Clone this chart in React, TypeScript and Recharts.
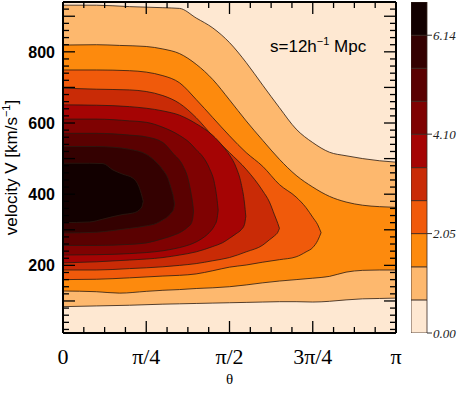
import React from 'react';
import { ComposedChart, Area, XAxis, YAxis, CartesianGrid, BarChart, Bar, Label } from 'recharts';

// contour boundaries, one array per level: [theta / pi, lower V, upper V] (km/s)
const level1 = [
  [0, 84, 931], [0.1, 86, 931], [0.2, 88, 927], [0.3, 91, 924], [0.35, 92, 922], [0.4, 93, 895],
  [0.45, 94, 867], [0.5, 95, 826], [0.55, 96, 770], [0.6, 97, 706], [0.65, 98, 643], [0.7, 98, 583],
  [0.75, 97, 545], [0.8, 99, 518], [0.85, 103, 508], [0.9, 106, 500], [0.95, 107, 494], [1, 108, 490],
];
const level2 = [
  [0, 128, 819], [0.1, 126, 820], [0.17, 122, 818], [0.25, 127, 815], [0.3, 130, 808], [0.35, 132, 795],
  [0.4, 135, 765], [0.45, 137, 722], [0.5, 140, 665], [0.55, 145, 606], [0.6, 151, 551], [0.65, 156, 498],
  [0.7, 160, 453], [0.75, 164, 420], [0.8, 169, 394], [0.85, 181, 378], [0.9, 186, 369], [0.95, 187, 365],
  [1, 187, 363],
];
const level3 = [
  [0, 160, 749], [0.1, 161, 749], [0.2, 165, 747], [0.3, 170, 733], [0.35, 172, 713], [0.4, 176, 666],
  [0.45, 185, 615], [0.5, 195, 564], [0.55, 201, 517], [0.6, 209, 478], [0.65, 216, 427], [0.7, 224, 392],
  [0.73, 238, 362], [0.75, 250, 335], [0.765, 270, 314], [0.775, 292, 292],
];
const level4 = [
  [0, 187, 698], [0.1, 187, 695], [0.2, 191, 693], [0.3, 196, 677], [0.35, 200, 655], [0.4, 205, 615],
  [0.45, 213, 563], [0.5, 222, 517], [0.55, 238, 470], [0.6, 257, 409], [0.62, 272, 378], [0.635, 283, 342],
  [0.645, 293, 318], [0.65, 304, 304],
];
const level5 = [
  [0, 207, 651], [0.1, 210, 650], [0.2, 215, 646], [0.3, 222, 634], [0.35, 229, 622], [0.4, 238, 598],
  [0.45, 253, 565], [0.48, 264, 535], [0.5, 276, 510], [0.52, 289, 475], [0.535, 300, 430], [0.545, 315, 375],
  [0.549, 338, 338],
];
const level6 = [
  [0, 229, 611], [0.1, 230, 611], [0.2, 233, 606], [0.25, 236, 602], [0.3, 241, 588], [0.35, 250, 565],
  [0.38, 258, 545], [0.4, 266, 525], [0.42, 277, 505], [0.44, 293, 472], [0.455, 312, 430], [0.462, 328, 390],
  [0.466, 355, 355],
];
const level7 = [
  [0, 256, 571], [0.1, 256, 571], [0.2, 259, 566], [0.25, 263, 561], [0.3, 275, 545], [0.33, 284, 515],
  [0.36, 297, 480], [0.375, 308, 445], [0.385, 318, 400], [0.39, 335, 370], [0.392, 352, 352],
];
const level8 = [
  [0, 291, 534], [0.1, 293, 534], [0.15, 298, 532], [0.2, 304, 526], [0.25, 311, 512], [0.28, 318, 490],
  [0.3, 328, 468], [0.315, 337, 445], [0.325, 348, 415], [0.332, 358, 390], [0.335, 372, 372],
];
const level9 = [
  [0, 320, 487], [0.08, 322, 487], [0.12, 330, 486], [0.15, 337, 468], [0.18, 343, 456], [0.21, 347, 445],
  [0.228, 355, 421], [0.237, 365, 395], [0.241, 380, 380],
];
const contourLevels = [level1, level2, level3, level4, level5, level6, level7, level8, level9];

const bandColors = [
  '#fee8d2', '#fdb86e', '#fd8a0d', '#f05a0b', '#c92b06',
  '#a50404', '#7f0202', '#5a0101', '#340101', '#120000',
];
const bandEdges = [0, 0.683, 1.365, 2.05, 2.73, 3.41, 4.1, 4.78, 5.46, 6.14, 6.825];
const colorbarTicks = [0, 2.05, 4.1, 6.14];

const thetaTicks = Array.from({ length: 17 }, (_, i) => i / 16);
const thetaLabels = ['0', 'π/4', 'π/2', '3π/4', 'π'];
const velocityTicks = Array.from({ length: 47 }, (_, i) => (i + 1) * 20);
const velocityLabels = [200, 400, 600, 800];

// merge all levels into one table keyed by theta; missing levels are gaps
const rows = (() => {
  const map = new Map<number, any>();
  contourLevels.forEach((lvl, i) =>
    lvl.forEach(([t, lo, hi]) => {
      const row = map.get(t) ?? { t };
      row['l' + i] = [lo, hi];
      map.set(t, row);
    })
  );
  return [...map.values()].sort((a, b) => a.t - b.t);
})();

const cbRow: any = { name: 'cb' };
bandColors.forEach((_, i) => {
  cbRow['b' + i] = bandEdges[i + 1] - bandEdges[i];
});

const SANS = '"Liberation Sans", Arial, Helvetica, sans-serif';
const SERIF = '"Liberation Serif", "Times New Roman", serif';

const isQuarter = (v: number) => Math.abs(v * 4 - Math.round(v * 4)) < 1e-9;

const BottomTick = (props: any) => {
  const { x, y, payload } = props;
  const major = isQuarter(payload.value);
  return (
    <g>
      <line x1={x} x2={x} y1={y} y2={y - (major ? 12 : 6)} stroke="#000" strokeWidth={1.3} />
      {major && (
        <text x={x} y={y + 31} textAnchor="middle" fontFamily={SERIF} fontSize={22} fill="#000">
          {thetaLabels[Math.round(payload.value * 4)]}
        </text>
      )}
    </g>
  );
};

const TopTick = (props: any) => {
  const { x, y, payload } = props;
  const major = isQuarter(payload.value);
  return <line x1={x} x2={x} y1={y} y2={y + (major ? 12 : 6)} stroke="#000" strokeWidth={1.3} />;
};

const LeftTick = (props: any) => {
  const { x, y, payload } = props;
  const v = payload.value;
  const major = v % 100 === 0;
  return (
    <g>
      <line x1={x} x2={x + (major ? 12 : 6)} y1={y} y2={y} stroke="#000" strokeWidth={1.3} />
      {velocityLabels.includes(v) && (
        <text x={x - 8} y={y} dy="0.36em" textAnchor="end" fontFamily={SANS} fontWeight="bold" fontSize={16} fill="#000">
          {v}
        </text>
      )}
    </g>
  );
};

const RightTick = (props: any) => {
  const { x, y, payload } = props;
  const major = payload.value % 100 === 0;
  return <line x1={x} x2={x - (major ? 12 : 6)} y1={y} y2={y} stroke="#000" strokeWidth={1.3} />;
};

const YTitle = () => (
  <text x={17} y={167.5} transform="rotate(-90 17 167.5)" textAnchor="middle" fontFamily={SANS} fontSize={17} fill="#000">
    velocity V [km/s
    <tspan dy={-7} fontSize={11}>−1</tspan>
    <tspan dy={7}>]</tspan>
  </text>
);

const XTitle = () => (
  <text x={229.5} y={384} textAnchor="middle" fontFamily={SERIF} fontSize={15} fill="#000">
    θ
  </text>
);

export default function App() {
  return (
    <div style={{ position: 'absolute', left: 0, top: 0, width: 463, height: 397, background: '#fff' }}>
      <ComposedChart width={463} height={397} data={rows} margin={{ top: 1, right: 66, bottom: 0, left: 0 }}>
        <CartesianGrid xAxisId="th" yAxisId="v" fill={bandColors[0]} stroke="none" horizontal={false} vertical={false} />
        {contourLevels.map((_, i) => (
          <Area
            key={i}
            xAxisId="th"
            yAxisId="v"
            type="monotone"
            dataKey={(d: any) => d['l' + i] ?? [null, null]}
            fill={bandColors[i + 1]}
            fillOpacity={1}
            stroke="#2a1a12"
            strokeWidth={0.8}
            connectNulls
            dot={false}
            activeDot={false}
            isAnimationActive={false}
          />
        ))}
        <XAxis
          xAxisId="th"
          dataKey="t"
          type="number"
          domain={[0, 1]}
          ticks={thetaTicks}
          interval={0}
          height={64}
          tickSize={0}
          tickMargin={0}
          tick={BottomTick}
          axisLine={{ stroke: '#000', strokeWidth: 2 }}
          allowDataOverflow
        >
          <Label content={XTitle} />
        </XAxis>
        <XAxis
          xAxisId="top"
          orientation="top"
          dataKey="t"
          type="number"
          domain={[0, 1]}
          ticks={thetaTicks}
          interval={0}
          height={1}
          tickSize={0}
          tickMargin={0}
          tick={TopTick}
          axisLine={{ stroke: '#000', strokeWidth: 2 }}
          allowDataOverflow
        />
        <YAxis
          yAxisId="v"
          type="number"
          domain={[10, 940]}
          ticks={velocityTicks}
          interval={0}
          width={63}
          tickSize={0}
          tickMargin={0}
          tick={LeftTick}
          axisLine={{ stroke: '#000', strokeWidth: 2 }}
          allowDataOverflow
        >
          <Label content={YTitle} />
        </YAxis>
        <YAxis
          yAxisId="vr"
          orientation="right"
          type="number"
          domain={[10, 940]}
          ticks={velocityTicks}
          interval={0}
          width={1}
          tickSize={0}
          tickMargin={0}
          tick={RightTick}
          axisLine={{ stroke: '#000', strokeWidth: 2 }}
          allowDataOverflow
        />
      </ComposedChart>

      <div style={{ position: 'absolute', left: 411, top: 0 }}>
        <BarChart width={52} height={397} data={[cbRow]} margin={{ top: 2, right: 0, bottom: 64, left: 0 }} barCategoryGap={0}>
          <XAxis dataKey="name" hide />
          <YAxis
            orientation="right"
            type="number"
            domain={[0, 6.825]}
            ticks={colorbarTicks}
            interval={0}
            width={36}
            tickSize={5}
            tickMargin={1}
            axisLine={false}
            tickLine={{ stroke: '#333' }}
            tickFormatter={(v: number) => v.toFixed(2)}
            tick={{ fontFamily: SERIF, fontStyle: 'italic', fontSize: 13, fill: '#222' }}
            allowDataOverflow
          />
          {bandColors.map((c, i) => (
            <Bar key={i} dataKey={'b' + i} stackId="cb" fill={c} stroke="#3a2a22" strokeWidth={0.8} isAnimationActive={false} />
          ))}
        </BarChart>
      </div>

      <svg width={463} height={397} style={{ position: 'absolute', left: 0, top: 0, pointerEvents: 'none' }}>
        <text x={270} y={52} fontFamily={SANS} fontSize={17} fill="#000">
          s=12h
          <tspan dy={-7} fontSize={11}>−1</tspan>
          <tspan dy={7}> Mpc</tspan>
        </text>
      </svg>
    </div>
  );
}
